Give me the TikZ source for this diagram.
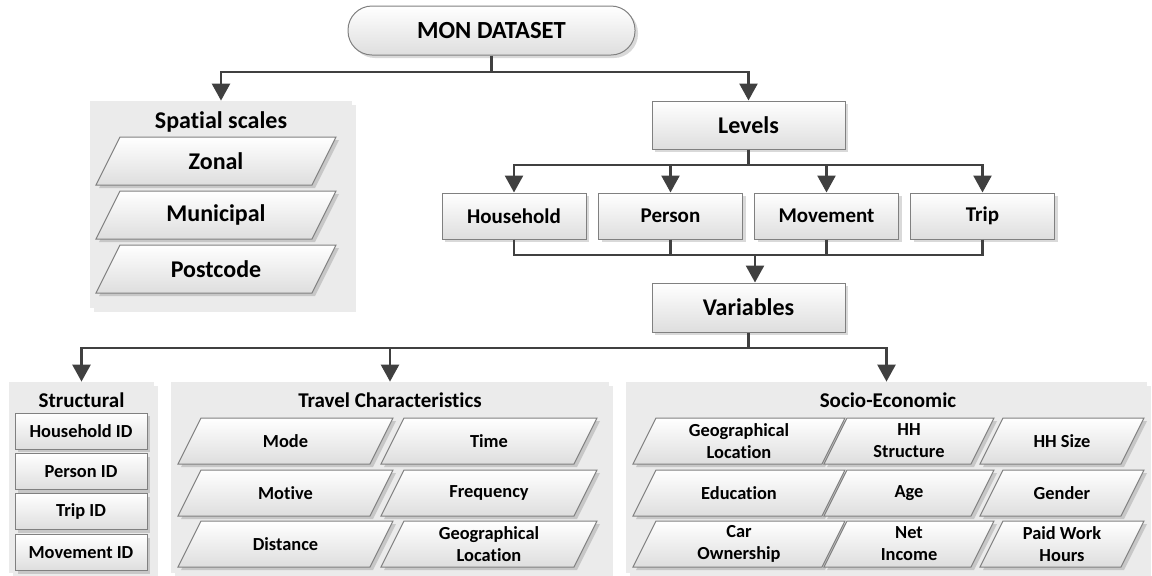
\documentclass[tikz,border=0pt]{standalone}
\usepackage{fontspec}
\setmainfont{Carlito}[Ligatures=NoCommon]
\usetikzlibrary{arrows.meta,shadows}
\definecolor{linegray}{HTML}{404040}
\definecolor{panelgray}{HTML}{EBEBEB}

% slanted box: name, x, y, width, height (px), text
\newcommand{\paranode}[6]{%
  \shade[boxfill] ({#2-#4/2+#5/2},{#3-#5/2}) -- ({#2+#4/2},{#3-#5/2})
    -- ({#2+#4/2-#5/2},{#3+#5/2}) -- ({#2-#4/2},{#3+#5/2}) -- cycle;
  \node[paratext] (#1) at (#2,#3) {#6};}

\begin{document}
\begin{tikzpicture}[
    x=0.5pt, y=-0.5pt,
    every node/.style={font=\bfseries, text=black, inner sep=1pt},
    boxfill/.style={top color=white, bottom color=black!13, draw=black!50, line width=0.5pt,
        drop shadow={shadow xshift=1.5pt, shadow yshift=-1.5pt, fill=black, opacity=0.15}},
    pill/.style={boxfill, rectangle, rounded corners=12pt, minimum width=143.5pt, minimum height=24.5pt,
        font=\fontsize{12.3}{14}\selectfont\bfseries},
    headbox/.style={boxfill, rectangle, minimum width=96.5pt, minimum height=24pt,
        font=\fontsize{12}{14}\selectfont\bfseries},
    lvl/.style={boxfill, rectangle, minimum width=72pt, minimum height=23pt,
        font=\fontsize{10.5}{12}\selectfont\bfseries},
    idbox/.style={boxfill, rectangle, minimum width=66pt, minimum height=18pt,
        font=\fontsize{9.2}{11}\selectfont\bfseries},
    paratext/.style={align=center, font=\fontsize{9.2}{11}\selectfont\bfseries},
    bigtext/.style={align=center, font=\fontsize{12}{14}\selectfont\bfseries},
    panel/.style={fill=panelgray, draw=none,
        drop shadow={shadow xshift=2pt, shadow yshift=-2pt, fill=black, opacity=0.08}},
    title/.style={anchor=base, font=\fontsize{10.5}{12}\selectfont\bfseries},
    conn/.style={draw=linegray, line width=1.3pt},
    arr/.style={conn, -{Triangle[width=9pt,length=8.5pt]}}
]
\useasboundingbox (0,0) rectangle (1152,575);

% Dataset
\node[pill] (mon) at (491.5,30.5) {MON DATASET};

% Spatial scales
\node[panel, minimum width=131pt, minimum height=103.5pt] (spatial) at (221,204.5) {};
\node[title, font=\fontsize{12}{14}\selectfont\bfseries] (spatialT) at (221,128) {Spatial scales};
\begin{scope}[paratext/.style={bigtext}]
\paranode{zonal}{216}{161}{240}{48}{Zonal}
\paranode{municipal}{216}{215}{240}{48}{Municipal}
\paranode{postcode}{216}{269}{240}{48}{Postcode}
\end{scope}

% Levels
\node[headbox] (levels) at (748.5,125) {Levels};
\node[lvl] (household) at (514,216) {Household};
\node[lvl] (person) at (670.5,216) {Person};
\node[lvl] (movement) at (826.5,216) {Movement};
\node[lvl] (trip) at (982.5,216) {Trip};

% Variables
\node[headbox, minimum height=24.5pt] (variables) at (748.5,307.5) {Variables};

% Structural
\node[panel, minimum width=72.5pt, minimum height=95.5pt] (structural) at (81.5,477.5) {};
\node[title] (structuralT) at (81.5,407) {Structural};
\node[idbox] (hhid) at (81,431) {Household ID};
\node[idbox] (personid) at (81,471.5) {Person ID};
\node[idbox] (tripid) at (81,511.5) {Trip ID};
\node[idbox] (moveid) at (81,552.5) {Movement ID};

% Travel Characteristics
\node[panel, minimum width=219pt, minimum height=95.5pt] (travel) at (390,477.5) {};
\node[title] (travelT) at (390,407) {Travel Characteristics};
\paranode{mode}{285.5}{441}{215}{46}{Mode}
\paranode{time}{489}{441}{216}{46}{Time}
\paranode{motive}{285.5}{493}{215}{46}{Motive}
\paranode{frequency}{489}{493}{216}{46}{Frequency}
\paranode{distance}{285.5}{544}{215}{46}{Distance}
\paranode{travelgeo}{489}{544}{216}{46}{Geographical\\Location}

% Socio-Economic
\node[panel, minimum width=260.5pt, minimum height=95.5pt] (socio) at (886.5,477.5) {};
\node[title] (socioT) at (888,407) {Socio-Economic};
\paranode{sociogeo}{739}{441}{212}{46}{Geographical\\Location}
\paranode{hhstruct}{909}{441}{170}{46}{HH\\Structure}
\paranode{hhsize}{1062}{441}{164}{46}{HH Size}
\paranode{education}{739}{493}{212}{46}{Education}
\paranode{age}{909}{493}{170}{46}{Age}
\paranode{gender}{1062}{493}{164}{46}{Gender}
\paranode{car}{739}{544}{212}{46}{Car\\Ownership}
\paranode{income}{909}{544}{170}{46}{Net\\Income}
\paranode{workhours}{1062}{544}{164}{46}{Paid Work\\Hours}

% Connectors
\coordinate (topbus) at (491.5,72);
\draw[conn] (mon.south) -- (topbus);
\draw[arr] (topbus) -| (spatial.north);
\draw[arr] (topbus) -| (levels.north);

\coordinate (lvbus) at (748.5,165);
\draw[conn] (levels.south) -- (lvbus);
\foreach \n in {household,person,movement,trip}
    \draw[arr] (lvbus) -| (\n.north);

\coordinate (mgbus) at (755,255);
\foreach \n in {household,person,movement,trip}
    \draw[conn] (\n.south) |- (mgbus);
\draw[arr] (mgbus) -- (mgbus |- variables.north);

\coordinate (vrbus) at (748.5,348);
\draw[conn] (variables.south) -- (vrbus);
\foreach \n in {structural,travel,socio}
    \draw[arr] (vrbus) -| (\n.north);
\end{tikzpicture}
\end{document}
